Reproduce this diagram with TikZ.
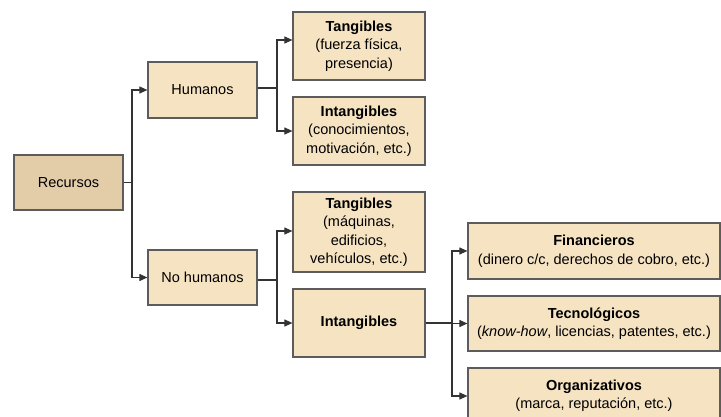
\documentclass[tikz,border=0pt]{standalone}
\usepackage{fontspec}
\setmainfont{Liberation Sans}
\usetikzlibrary{arrows.meta}
\definecolor{boxfill}{HTML}{F5E3C2}
\definecolor{rootfill}{HTML}{E3CDA8}
\definecolor{boxline}{HTML}{5C5C5C}
\definecolor{conline}{HTML}{333333}
\begin{document}
\begin{tikzpicture}[x=1pt,y=-1pt,
  every node/.style={font=\fontsize{14.5}{18.5}\selectfont},
  box/.style={draw=boxline, line width=1.2pt, fill=boxfill, inner sep=0pt, align=center},
  rootbox/.style={box, fill=rootfill},
  conn/.style={draw=conline, line width=1.1pt},
  arr/.style={conn, -{Triangle[length=8pt,width=7pt]}}
]
\useasboundingbox (0,0) rectangle (721,417);
\clip (0,0) rectangle (721,417);

\node[rootbox, minimum width=109pt, minimum height=55pt] (rec) at (68.5,182.5) {Recursos};
\node[box, minimum width=109pt, minimum height=56pt] (hum) at (202.5,90) {Humanos};
\node[box, minimum width=109pt, minimum height=55pt] (nohum) at (202.5,277.5) {No humanos};

\node[box, minimum width=132pt, minimum height=68pt] (t1) at (359,46) {\textbf{Tangibles}\\(fuerza física,\\presencia)};
\node[box, minimum width=132pt, minimum height=68pt] (i1) at (359,131) {\textbf{Intangibles}\\(conocimientos,\\motivación, etc.)};
\node[box, minimum width=132pt, minimum height=80pt] (t2) at (359,232) {\textbf{Tangibles}\\(máquinas,\\edificios,\\vehículos, etc.)};
\node[box, minimum width=132pt, minimum height=68pt] (i2) at (359,323) {\textbf{Intangibles}};

\node[box, minimum width=252pt, minimum height=56pt] (fin) at (594,251) {\textbf{Financieros}\\(dinero c/c, derechos de cobro, etc.)};
\node[box, minimum width=252pt, minimum height=55pt] (tec) at (594,323.5) {\textbf{Tecnológicos}\\(\textit{know-how}, licencias, patentes, etc.)};
\node[box, minimum width=252pt, minimum height=56pt] (org) at (594,396) {\textbf{Organizativos}\\(marca, reputación, etc.)};

% connectors
\coordinate (j0) at (132,182.5);
\draw[conn] (rec.east) -- (j0);
\draw[arr] (j0) |- (hum.west);
\draw[arr] (j0) |- (nohum.west);

\coordinate (j1) at (277,88);
\draw[conn] (hum.east |- j1) -- (j1);
\draw[arr] (j1) |- ([yshift=6pt]t1.west);
\draw[arr] (j1) |- (i1.west);

\coordinate (j2) at (277,280);
\draw[conn] (nohum.east |- j2) -- (j2);
\draw[arr] (j2) |- ([yshift=1pt]t2.west);
\draw[arr] (j2) |- (i2.west);

\coordinate (j3) at (452,323);
\draw[conn] (i2.east) -- (j3);
\draw[arr] (j3) |- (fin.west);
\draw[arr] (j3) |- (tec.west);
\draw[arr] (j3) |- (org.west);
\end{tikzpicture}
\end{document}
